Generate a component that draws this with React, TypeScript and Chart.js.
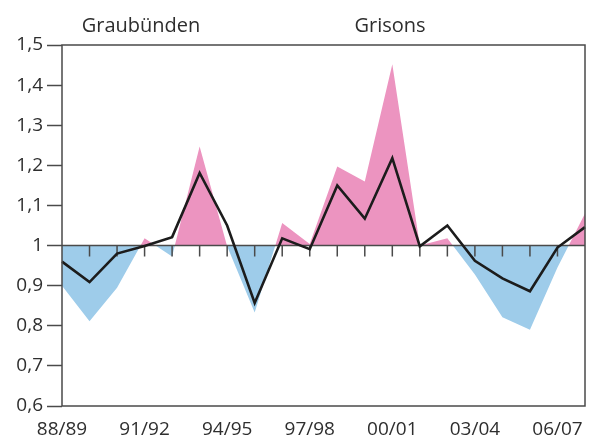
import React, { useEffect, useRef } from 'react';
import { Chart, registerables } from 'chart.js';

Chart.register(...registerables);

const seasons = [
  '88/89', '89/90', '90/91', '91/92', '92/93', '93/94', '94/95', '95/96', '96/97', '97/98',
  '98/99', '99/00', '00/01', '01/02', '02/03', '03/04', '04/05', '05/06', '06/07', '07/08',
];
const lineValues = [
  0.96, 0.909, 0.98, 0.999, 1.021, 1.181, 1.05, 0.857, 1.018, 0.991,
  1.15, 1.067, 1.218, 0.998, 1.05, 0.962, 0.918, 0.886, 0.995, 1.046,
];
const areaValues = [
  0.9, 0.811, 0.895, 1.018, 0.973, 1.247, 0.998, 0.833, 1.056, 1.004,
  1.197, 1.16, 1.452, 1.0, 1.018, 0.928, 0.821, 0.79, 0.945, 1.08,
];
const titleLeft = 'Graubünden';
const titleRight = 'Grisons';
const baseline = 1;
const yMin = 0.6;
const yMax = 1.5;
const yStep = 0.1;
const labelEvery = 3;

const pink = '#EC94C0';
const blue = '#9ECCEA';
const frameColor = '#4a4a4a';
const textColor = '#2e2e2e';
const fontFamily = '"Open Sans", "Noto Sans", sans-serif';

const framePlugin = {
  id: 'frame',
  afterDatasetDraw(chart: any, args: any) {
    if (args.index !== 1) return;
    const { ctx, chartArea, scales } = chart;
    const y = scales.y.getPixelForValue(baseline);
    ctx.save();
    ctx.strokeStyle = frameColor;
    ctx.lineWidth = 1.5;
    ctx.beginPath();
    ctx.moveTo(chartArea.left, y);
    ctx.lineTo(chartArea.right, y);
    for (let i = 1; i < seasons.length - 1; i++) {
      const x = scales.x.getPixelForValue(i);
      ctx.moveTo(x, y);
      ctx.lineTo(x, y + 11);
    }
    ctx.stroke();
    ctx.restore();
  },
  afterDraw(chart: any) {
    const { ctx, chartArea } = chart;
    ctx.save();
    ctx.strokeStyle = frameColor;
    ctx.lineWidth = 1.5;
    ctx.strokeRect(chartArea.left, chartArea.top, chartArea.right - chartArea.left, chartArea.bottom - chartArea.top);
    ctx.fillStyle = textColor;
    ctx.font = `20px ${fontFamily}`;
    ctx.textAlign = 'center';
    ctx.textBaseline = 'alphabetic';
    ctx.fillText(titleLeft, chartArea.left + 79, chartArea.top - 13);
    ctx.fillText(titleRight, chartArea.left + 328, chartArea.top - 13);
    ctx.restore();
  },
};

export default function App() {
  const canvasRef = useRef<HTMLCanvasElement | null>(null);

  useEffect(() => {
    document.body.style.margin = '0';
    const canvas = canvasRef.current;
    if (!canvas) return;
    const chart = new Chart(canvas, {
      type: 'line',
      data: {
        labels: seasons,
        datasets: [
          {
            data: lineValues,
            borderColor: '#1c1c1c',
            borderWidth: 2.6,
            pointRadius: 0,
            tension: 0,
            fill: false,
          },
          {
            data: areaValues,
            borderColor: 'rgba(0,0,0,0)',
            borderWidth: 0,
            pointRadius: 0,
            tension: 0,
            fill: { target: { value: baseline }, above: pink, below: blue },
          },
        ],
      },
      options: {
        animation: false,
        responsive: true,
        maintainAspectRatio: false,
        layout: { padding: { top: 45, right: 7, left: 0, bottom: 0 } },
        plugins: {
          legend: { display: false },
          tooltip: { enabled: false },
        },
        scales: {
          x: {
            type: 'category',
            offset: false,
            grid: { display: false, drawTicks: false },
            border: { display: false },
            ticks: {
              autoSkip: false,
              maxRotation: 0,
              minRotation: 0,
              padding: 12,
              color: textColor,
              font: { family: fontFamily, size: 19 },
              callback: (_v: any, i: number) => (i % labelEvery === 0 ? seasons[i] : ''),
            },
            afterFit: (scale: any) => {
              scale.height = 38;
              scale.paddingLeft = 0;
              scale.paddingRight = 0;
            },
          },
          y: {
            min: yMin,
            max: yMax,
            grid: {
              display: true,
              drawOnChartArea: false,
              drawTicks: true,
              tickLength: 15,
              tickColor: frameColor,
              tickWidth: 1.5,
            },
            border: { display: false },
            ticks: {
              stepSize: yStep,
              padding: 4,
              color: textColor,
              font: { family: fontFamily, size: 19 },
              callback: (v: any) => {
                const r = Math.round(Number(v) * 10) / 10;
                return r === 1 ? '1' : r.toFixed(1).replace('.', ',');
              },
            },
            afterFit: (scale: any) => {
              scale.width = 62;
            },
          },
        },
      },
      plugins: [framePlugin],
    });
    return () => chart.destroy();
  }, []);

  return (
    <div style={{ position: 'relative', width: 592, height: 444, background: '#fff' }}>
      <canvas ref={canvasRef} />
    </div>
  );
}
